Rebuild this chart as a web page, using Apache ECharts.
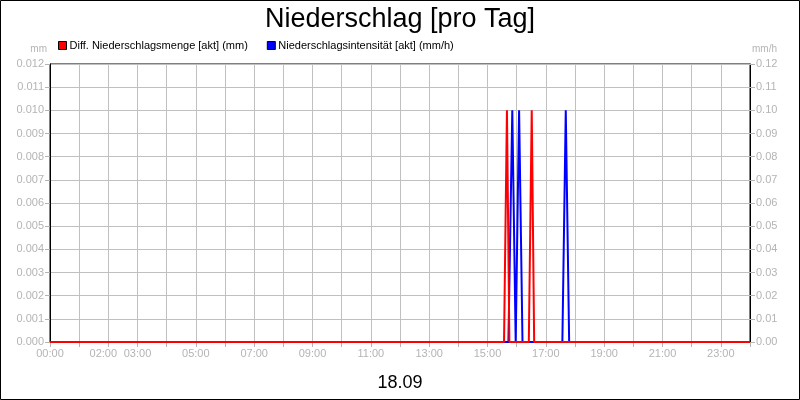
<!DOCTYPE html>
<html>
<head>
<meta charset="utf-8">
<script src="https://cdn.jsdelivr.net/npm/echarts@6/dist/echarts.min.js"></script>
<style>html,body{margin:0;padding:0;background:#fff}#c{width:800px;height:400px}</style>
</head>
<body>
<div id="c"></div>
<script>
// ---- data ----
const titleText = 'Niederschlag [pro Tag]';
const dateText = '18.09';
const redName = 'Diff. Niederschlagsmenge [akt] (mm)';
const blueName = 'Niederschlagsintensität [akt] (mm/h)';
const redTimes  = ['00:00','15:34','15:40','15:45','16:25','16:31','16:36','24:00'];
const redValues = [0, 0, 0.010, 0, 0, 0.010, 0, 0];
const blueTimes  = ['00:00','15:43','15:51','15:58','16:05','16:12','17:34','17:41','17:48','24:00'];
const blueValues = [0, 0, 0.10, 0, 0.10, 0, 0, 0.10, 0, 0];
const xLabelHours = [0, 2, 3, 5, 7, 9, 11, 13, 15, 17, 19, 21, 23];
const xLabelTexts = ['00:00','02:00','03:00','05:00','07:00','09:00','11:00','13:00','15:00','17:00','19:00','21:00','23:00'];

function toHours(t){ const p = t.split(':'); return (+p[0]) + (+p[1]) / 60; }
const redData = redTimes.map((t, i) => [toHours(t), redValues[i]]);
const blueData = blueTimes.map((t, i) => [toHours(t), blueValues[i]]);

const grey = '#b4b4b4';
const gridGrey = '#c0c0c0';
const font = 'Liberation Sans, Arial, sans-serif';

const chart = echarts.init(document.getElementById('c'), null, {renderer: 'canvas'});
chart.setOption({
  animation: false,
  backgroundColor: '#fff',
  textStyle: {fontFamily: font},
  title: [
    {text: titleText, left: 'center', top: 1, textStyle: {fontSize: 27, fontWeight: 'normal', color: '#000', fontFamily: font}},
    {text: dateText, left: 'center', top: 369, textStyle: {fontSize: 18, fontWeight: 'normal', color: '#000', fontFamily: font}}
  ],
  legend: {
    left: 58, top: 40, padding: 0,
    itemWidth: 8, itemHeight: 8, itemGap: 19,
    icon: 'rect',
    textStyle: {fontSize: 11, color: '#000', fontFamily: font, padding: [0,0,0,-2]},
    itemStyle: {borderColor: '#000', borderWidth: 1},
    data: [redName, blueName]
  },
  grid: {left: 50, right: 50, top: 64, bottom: 58, show: true, borderColor: '#000', borderWidth: 1, containLabel: false},
  xAxis: {
    type: 'value', min: 0, max: 24, interval: 1,
    axisLine: {show: true, lineStyle: {color: '#000', width: 1}},
    axisTick: {show: true, length: 5, lineStyle: {color: grey}},
    splitLine: {show: true, lineStyle: {color: gridGrey, width: 1}},
    axisLabel: {
      color: grey, fontSize: 11, fontFamily: font, margin: 6,
      formatter: function (v) {
        const i = xLabelHours.indexOf(v);
        if (i < 0) return '';
        if (v === 2) return '{s|' + xLabelTexts[i] + '}';
        return xLabelTexts[i];
      },
      rich: {s: {color: grey, fontSize: 11, fontFamily: font, padding: [0, 10, 0, 0]}}
    }
  },
  yAxis: [
    {
      type: 'value', min: 0, max: 0.012, interval: 0.001, position: 'left',
      name: 'mm', nameLocation: 'end', nameGap: 10,
      nameTextStyle: {color: grey, fontSize: 10, fontFamily: font, align: 'right', padding: [0, 3, 0, 0]},
      axisLine: {show: true, lineStyle: {color: '#000'}},
      axisTick: {show: true, length: 5, lineStyle: {color: grey}},
      splitLine: {show: true, lineStyle: {color: gridGrey}},
      axisLabel: {color: grey, fontSize: 11, fontFamily: font, margin: 6, formatter: v => v.toFixed(3)}
    },
    {
      type: 'value', min: 0, max: 0.12, interval: 0.01, position: 'right',
      name: 'mm/h', nameLocation: 'end', nameGap: 10,
      nameTextStyle: {color: grey, fontSize: 10, fontFamily: font, align: 'left', padding: [0, 0, 0, 2]},
      axisLine: {show: true, lineStyle: {color: '#000'}},
      axisTick: {show: true, length: 5, lineStyle: {color: grey}},
      splitLine: {show: false},
      axisLabel: {color: grey, fontSize: 11, fontFamily: font, margin: 6, formatter: v => v.toFixed(2)}
    }
  ],
  series: [
    {name: blueName, type: 'line', yAxisIndex: 1, data: blueData, showSymbol: false, symbol: 'none',
     lineStyle: {color: '#0000ff', width: 2}, itemStyle: {color: '#0000ff'}, z: 2},
    {name: redName, type: 'line', yAxisIndex: 0, data: redData, showSymbol: false, symbol: 'none',
     lineStyle: {color: '#ff0000', width: 2}, itemStyle: {color: '#ff0000'}, z: 3}
  ],
  graphic: [
    {type: 'rect', shape: {x: 0.5, y: 0.5, width: 799, height: 399}, style: {fill: 'none', stroke: '#000', lineWidth: 1}, z: 100}
  ]
});
</script>
</body>
</html>
